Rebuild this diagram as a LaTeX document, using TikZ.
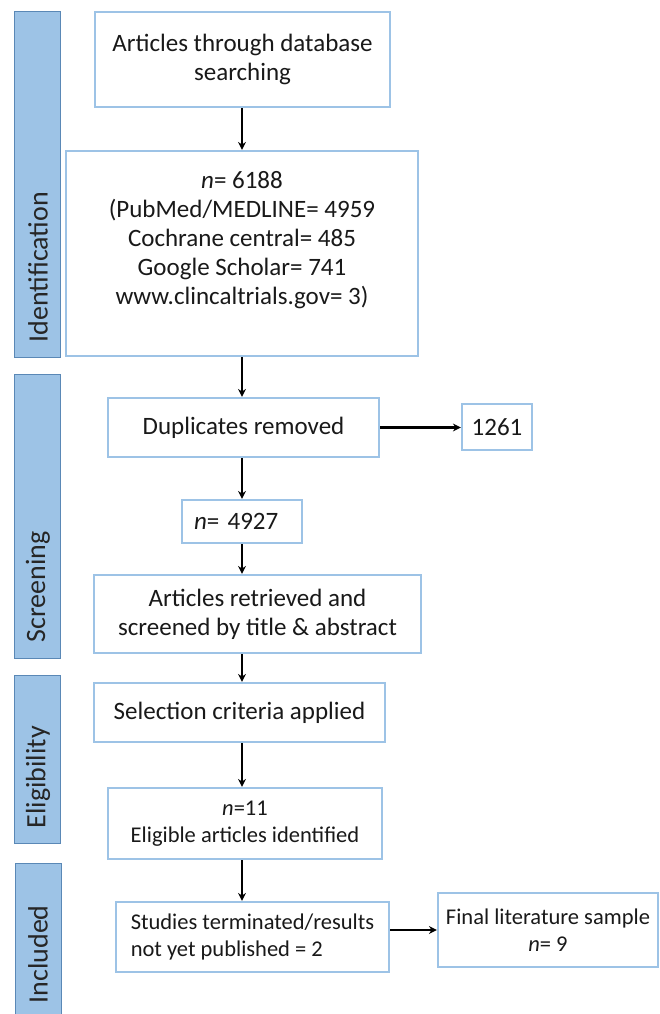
\documentclass[tikz,border=0pt]{standalone}
\usepackage{fontspec}
\setmainfont{Carlito}
\usetikzlibrary{arrows.meta}
\definecolor{barfill}{HTML}{9DC3E6}
\definecolor{barline}{HTML}{5A88B6}
\definecolor{boxline}{HTML}{9DC3E6}
\begin{document}
\begin{tikzpicture}[x=1pt, y=-1pt, >={Stealth[length=8pt,width=8pt]}, line width=2.6pt,
  box/.style={draw=boxline, line width=2.2pt, fill=white, align=center, inner sep=0pt, text=black!90, font=\fontsize{25}{29}\selectfont},
  small/.style={font=\fontsize{22.5}{27}\selectfont},
  bar/.style={draw=barline, fill=barfill, line width=1pt, minimum width=46, inner sep=0pt},
  stage/.style={rotate=90, anchor=west, text=black!85, font=\fontsize{28}{34}\selectfont}]
\useasboundingbox (0,0) rectangle (660,1014);
% stage bars
\node[bar, minimum height=345](S1) at (37,184.5){};
\node[bar, minimum height=284](S2) at (37,516){};
\node[bar, minimum height=168](S3) at (37,759){};
\node[bar, minimum height=162](S4) at (38,944){};
\node[stage](S1t) at (38,347){Identification};
\node[stage](S2t) at (38,647){Screening};
\node[stage](S3t) at (38,833){Eligibility};
\node[stage](S4t) at (38,1008){Included};
% boxes
\node[box, minimum width=295, minimum height=95](A) at (242.5,59.5){Articles through database\\searching};
\node[box, minimum width=352, minimum height=205](B) at (242,253.5){};
\node[align=center, text=black!90, font=\fontsize{25}{29}\selectfont](Bt) at (242,240){\textit{n}= 6188\\(PubMed/MEDLINE= 4959\\Cochrane central= 485\\Google Scholar= 741\\www.clincaltrials.gov= 3)};
\node[box, minimum width=271, minimum height=59](C) at (243.5,427.5){Duplicates removed};
\node[box, minimum width=70, minimum height=46](C1) at (497,427){1261};
\node[box, minimum width=120, minimum height=43, text width=96, align=left](D) at (242,521.5){\textit{n}= 4927};
\node[box, minimum width=327, minimum height=78](E) at (257.5,614){Articles retrieved and\\screened by title \& abstract};
\node[box, minimum width=291, minimum height=59](F) at (239.5,712.5){Selection criteria applied};
\node[box, small, minimum width=274, minimum height=71](G) at (245,823.5){\textit{n}=11\\Eligible articles identified};
\node[box, small, align=left, minimum width=273, minimum height=70](H) at (252.5,937){Studies terminated/results\\not yet published = 2};
\node[box, small, minimum width=220, minimum height=74](H1) at (548,930){Final literature sample\\\textit{n}= 9};
% arrows
\draw[->](A.south -| D)--(B.north -| D);
\draw[->](B.south -| D)--(C.north -| D);
\draw[->](C.east)--(C.east -| C1.west);
\draw[->](C.south -| D)--(D.north);
\draw[->](D.south)--(E.north -| D);
\draw[->](E.south -| D)--(F.north -| D);
\draw[->](F.south -| D)--(G.north -| D);
\draw[->](G.south -| D)--(H.north -| D);
\draw[->](H.east |- H1)--(H1.west);
\end{tikzpicture}
\end{document}
